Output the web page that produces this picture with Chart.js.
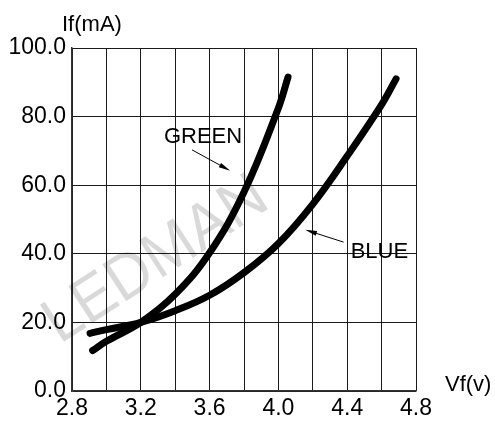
<!DOCTYPE html>
<html>
<head>
<meta charset="utf-8">
<script src="https://cdn.jsdelivr.net/npm/chart.js@4/dist/chart.umd.min.js"></script>
<style>
  html, body { margin:0; padding:0; background:#fff; }
  #wrap { width:495px; height:424px; position:relative; }
</style>
</head>
<body>
<div id="wrap"><canvas id="ivc"></canvas></div>
<script>
// Vf / If curves
const greenVf = [2.92, 3.0, 3.2, 3.4, 3.6, 3.8, 4.0, 4.056];
const greenIf = [11.8, 14.5, 20, 28.2, 40.3, 58, 82.5, 91.5];
const blueVf  = [2.905, 3.0, 3.2, 3.4, 3.6, 3.8, 4.0, 4.2, 4.4, 4.6, 4.684];
const blueIf  = [16.8, 17.9, 20, 23.4, 27.9, 34.5, 43.0, 54.5, 68.5, 83.5, 91];

const xTickLabels = ['2.8', '3.2', '3.6', '4.0', '4.4', '4.8'];
const yTickLabels = ['0.0', '20.0', '40.0', '60.0', '80.0', '100.0'];

const FONT = '"Liberation Sans", Arial, sans-serif';
const INK  = '#000';
const GRID = '#1a1a1a';

const pts = (xs, ys) => xs.map((x, i) => ({ x, y: ys[i] }));

// watermark, axis titles, curve labels with arrows
const extras = {
  id: 'extras',
  beforeDatasetsDraw(chart) {
    const { ctx, scales: { x, y } } = chart;
    ctx.save();
    ctx.translate(x.getPixelForValue(3.29), y.getPixelForValue(38));
    ctx.rotate(-33 * Math.PI / 180);
    ctx.scale(0.95, 1);
    ctx.fillStyle = 'rgba(0,0,0,0.15)';
    ctx.font = '64px ' + FONT;
    ctx.textAlign = 'center';
    ctx.textBaseline = 'middle';
    ctx.fillText('LEDMAN', 0, 0);
    ctx.restore();
  },
  afterDraw(chart) {
    const { ctx, chartArea: a, scales: { x, y } } = chart;
    ctx.save();
    ctx.fillStyle = INK;
    ctx.font = '22px ' + FONT;
    ctx.textBaseline = 'middle';
    ctx.textAlign = 'left';
    ctx.fillText('If(mA)', a.left - 10, a.top - 23);
    ctx.fillText('Vf(v)', a.right + 29, a.bottom - 6);

    ctx.textAlign = 'center';
    ctx.fillText('GREEN', x.getPixelForValue(3.562), y.getPixelForValue(74));
    ctx.fillText('BLUE', x.getPixelForValue(4.587), y.getPixelForValue(40.6));

    const arrow = (x0, y0, x1, y1) => {
      const p0 = [x.getPixelForValue(x0), y.getPixelForValue(y0)];
      const p1 = [x.getPixelForValue(x1), y.getPixelForValue(y1)];
      const ang = Math.atan2(p1[1] - p0[1], p1[0] - p0[0]);
      ctx.strokeStyle = INK;
      ctx.lineWidth = 1;
      ctx.beginPath();
      ctx.moveTo(p0[0], p0[1]);
      ctx.lineTo(p1[0] - 8 * Math.cos(ang), p1[1] - 8 * Math.sin(ang));
      ctx.stroke();
      ctx.beginPath();
      ctx.moveTo(p1[0], p1[1]);
      ctx.lineTo(p1[0] - 12 * Math.cos(ang - 0.2), p1[1] - 12 * Math.sin(ang - 0.2));
      ctx.lineTo(p1[0] - 12 * Math.cos(ang + 0.2), p1[1] - 12 * Math.sin(ang + 0.2));
      ctx.closePath();
      ctx.fill();
    };
    arrow(3.498, 70.3, 3.72, 64.2);
    arrow(4.379, 43.4, 4.156, 47.0);
    ctx.restore();
  },
};

new Chart(document.getElementById('ivc'), {
  type: 'line',
  data: {
    datasets: [
      { label: 'GREEN', data: pts(greenVf, greenIf) },
      { label: 'BLUE',  data: pts(blueVf, blueIf) },
    ].map(d => ({
      ...d,
      borderColor: INK, borderWidth: 7, borderCapStyle: 'round', borderJoinStyle: 'round',
      tension: 0.4, pointRadius: 0, fill: false,
    })),
  },
  options: {
    responsive: true, maintainAspectRatio: false, animation: false,
    layout: { padding: { top: 48, right: 79, left: 0, bottom: 0 } },
    plugins: { legend: { display: false }, tooltip: { enabled: false } },
    scales: {
      x: {
        type: 'linear', min: 2.8, max: 4.8,
        afterFit: s => { s.height = 33; },
        ticks: {
          stepSize: 0.2, padding: 4, color: INK, maxRotation: 0, autoSkip: false,
          font: { size: 23, family: FONT },
          callback: v => {
            const k = Math.round(v * 10);
            return k % 4 === 0 ? xTickLabels[(k - 28) / 4] : '';
          },
        },
        grid: { color: GRID, lineWidth: 1, drawTicks: false },
        border: { color: '#333', width: 1.5 },
      },
      y: {
        min: 0, max: 100,
        afterFit: s => { s.width = 72; },
        ticks: {
          stepSize: 20, padding: 6, color: INK,
          font: { size: 23, family: FONT },
          callback: v => yTickLabels[Math.round(v / 20)],
        },
        grid: { color: GRID, lineWidth: 1, drawTicks: false },
        border: { color: '#333', width: 1.5 },
      },
    },
  },
  plugins: [extras],
});
</script>
</body>
</html>
